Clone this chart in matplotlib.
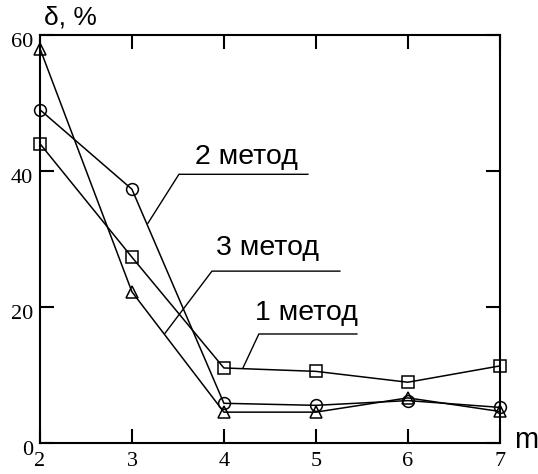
import numpy as np
import matplotlib.pyplot as plt
import matplotlib.transforms as mtransforms

# data
m = [2, 3, 4, 5, 6, 7]
method1 = [44.0, 27.3, 11.0, 10.5, 8.9, 11.3]   # squares
method2 = [49.0, 37.3, 5.8, 5.5, 6.2, 5.2]      # circles
method3 = [58.0, 22.2, 4.5, 4.5, 6.6, 4.6]      # triangles

labels = ['1 метод', '2 метод', '3 метод']
# label position and leader line (text x, text y, line points)
label_pos = [(4.90, 19.1), (4.24, 42.0), (4.47, 28.6)]
leaders = [
    ([5.446, 4.380, 4.207], [16.0, 16.0, 11.0]),
    ([4.913, 3.511, 3.174], [39.5, 39.5, 32.3]),
    ([5.261, 3.870, 3.359], [25.25, 25.25, 16.1]),
]

fig = plt.figure(figsize=(5.38, 4.74), dpi=100)
ax = fig.add_axes([0.0743, 0.066, 0.8547, 0.8602])

kw = dict(color='black', lw=1.1, markersize=8.5, markerfacecolor='none',
          markeredgewidth=1.1, clip_on=False, zorder=3)
ax.plot(m, method1, marker='s', **kw)
ax.plot(m, method2, marker='o', **kw)
ax.plot(m, method3, marker='^', **kw)

for (tx, ty), (lx, ly), lab in zip(label_pos, leaders, labels):
    ax.plot(lx, ly, color='black', lw=1.0)
    ax.text(tx, ty, lab, ha='center', va='center', fontsize=20.5,
            family='Liberation Sans')

ax.set_xlim(2, 7)
ax.set_ylim(0, 60)
ax.set_xticks(m)
ax.set_yticks([0, 20, 40, 60])
for s in ax.spines.values():
    s.set_linewidth(1.5)
ax.tick_params(direction='in', length=10, width=1.5, top=True, right=True,
               labelsize=16, pad=5)
ax.tick_params(axis='x', pad=7)
for t in ax.get_xticklabels() + ax.get_yticklabels():
    t.set_family('Liberation Serif')
off = mtransforms.ScaledTranslation(0, -0.05, fig.dpi_scale_trans)
for t in ax.get_yticklabels():
    t.set_transform(t.get_transform() + off)

fig.text(70 / 538, 1 - 18 / 474, 'δ, %', ha='center', va='center',
         fontsize=19, family='Liberation Sans')
fig.text(526 / 538, 1 - 440 / 474, 'm', ha='center', va='center',
         fontsize=21, family='Liberation Sans')

fig.savefig('out.png', dpi=100)
